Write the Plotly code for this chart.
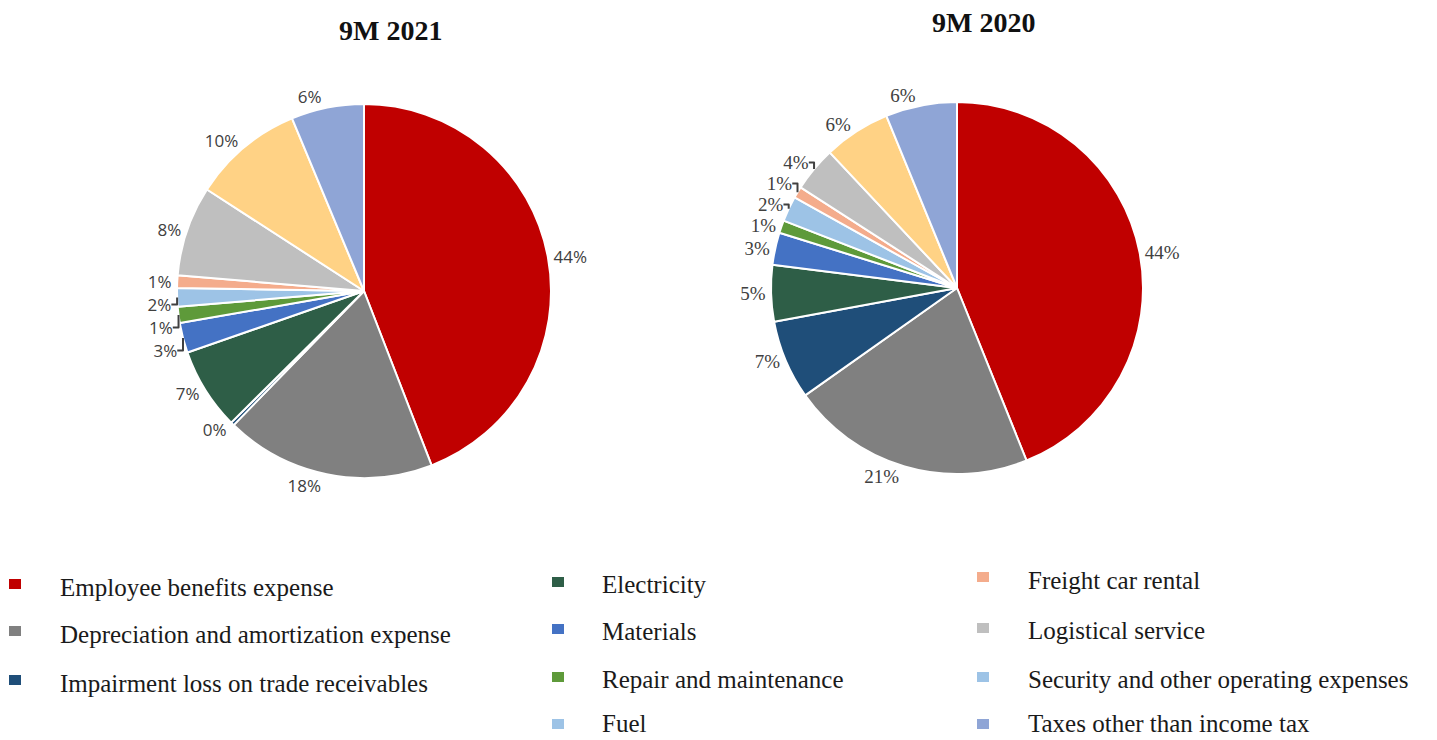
import plotly.graph_objects as go

W, H = 1437, 740

categories = [
    "Employee benefits expense",
    "Depreciation and amortization expense",
    "Impairment loss on trade receivables",
    "Electricity",
    "Materials",
    "Repair and maintenance",
    "Fuel",
    "Freight car rental",
    "Logistical service",
    "Security and other operating expenses",
    "Taxes other than income tax",
]
values_2021 = [44.2, 18.2, 0.3, 7.1, 2.6, 1.4, 1.6, 1.1, 7.8, 9.6, 6.3]
values_2020 = [43.9, 21.3, 6.9, 4.9, 2.8, 1.1, 2.2, 1.0, 3.9, 5.8, 6.2]

slice_colors = ["#C00000", "#808080", "#1F4E79", "#2E5E47", "#4472C4", "#5E9A3A",
                "#9DC3E6", "#F4AC8C", "#BFBFBF", "#FFD285", "#8FA5D6"]
legend_colors = ["#C00000", "#808080", "#1F4E79", "#2E5E47", "#4472C4", "#5E9A3A",
                 "#9DC3E6", "#F4AC8C", "#BFBFBF", "#9DC3E6", "#8FA5D6"]

def px_dom(cx, cy, r):
    return dict(x=[(cx - r) / W, (cx + r) / W], y=[1 - (cy + r) / H, 1 - (cy - r) / H])

fig = go.Figure()
fig.add_trace(go.Pie(
    labels=categories, values=values_2021, sort=False, direction="clockwise", rotation=0,
    marker=dict(colors=slice_colors, line=dict(color="white", width=2)),
    textposition="outside", texttemplate="%{percent:.0%}",
    textfont=dict(family="Open Sans, sans-serif", size=17, color="#404040"),
    domain=px_dom(364, 291, 187), showlegend=False, hoverinfo="label+percent",
))
fig.add_trace(go.Pie(
    labels=categories, values=values_2020, sort=False, direction="clockwise", rotation=0,
    marker=dict(colors=slice_colors, line=dict(color="white", width=2)),
    textposition="outside", texttemplate="%{percent:.0%}",
    textfont=dict(family="Liberation Serif, serif", size=19, color="#404040"),
    domain=px_dom(957, 288, 186), showlegend=False, hoverinfo="label+percent",
))

annotations = [
    dict(text="<b>9M 2021</b>", x=390 / W, y=1 - 30 / H, xref="paper", yref="paper",
         xanchor="center", yanchor="middle", showarrow=False,
         font=dict(family="Liberation Serif, serif", size=28, color="#111111")),
    dict(text="<b>9M 2020</b>", x=983 / W, y=1 - 22 / H, xref="paper", yref="paper",
         xanchor="center", yanchor="middle", showarrow=False,
         font=dict(family="Liberation Serif, serif", size=28, color="#111111")),
]
shapes = []

# custom legend (3 columns, column-major): marker x, text x, text y, marker y
legend_pos = [
    (15, 58, 587, 584), (15, 58, 634, 631), (15, 58, 683, 680),
    (558, 600, 584, 582), (558, 600, 631, 629), (558, 600, 679, 677), (558, 600, 723, 724),
    (983, 1026, 580, 577), (983, 1026, 630, 628), (983, 1026, 679, 677), (983, 1026, 723, 724),
]
for name, col, (mx, tx, ty, my) in zip(categories, legend_colors, legend_pos):
    shapes.append(dict(type="rect", xref="paper", yref="paper",
                       x0=(mx - 6) / W, x1=(mx + 6) / W,
                       y0=1 - (my + 5) / H, y1=1 - (my - 5) / H,
                       fillcolor=col, line=dict(width=0)))
    annotations.append(dict(text=name, x=tx / W, y=1 - ty / H, xref="paper", yref="paper",
                            xanchor="left", yanchor="middle", showarrow=False,
                            font=dict(family="Liberation Serif, serif", size=25, color="#1a1a1a")))

fig.update_layout(
    width=W, height=H, margin=dict(l=0, r=0, t=0, b=0),
    paper_bgcolor="white", plot_bgcolor="white",
    annotations=annotations, shapes=shapes,
)
fig.write_html("out.html")
